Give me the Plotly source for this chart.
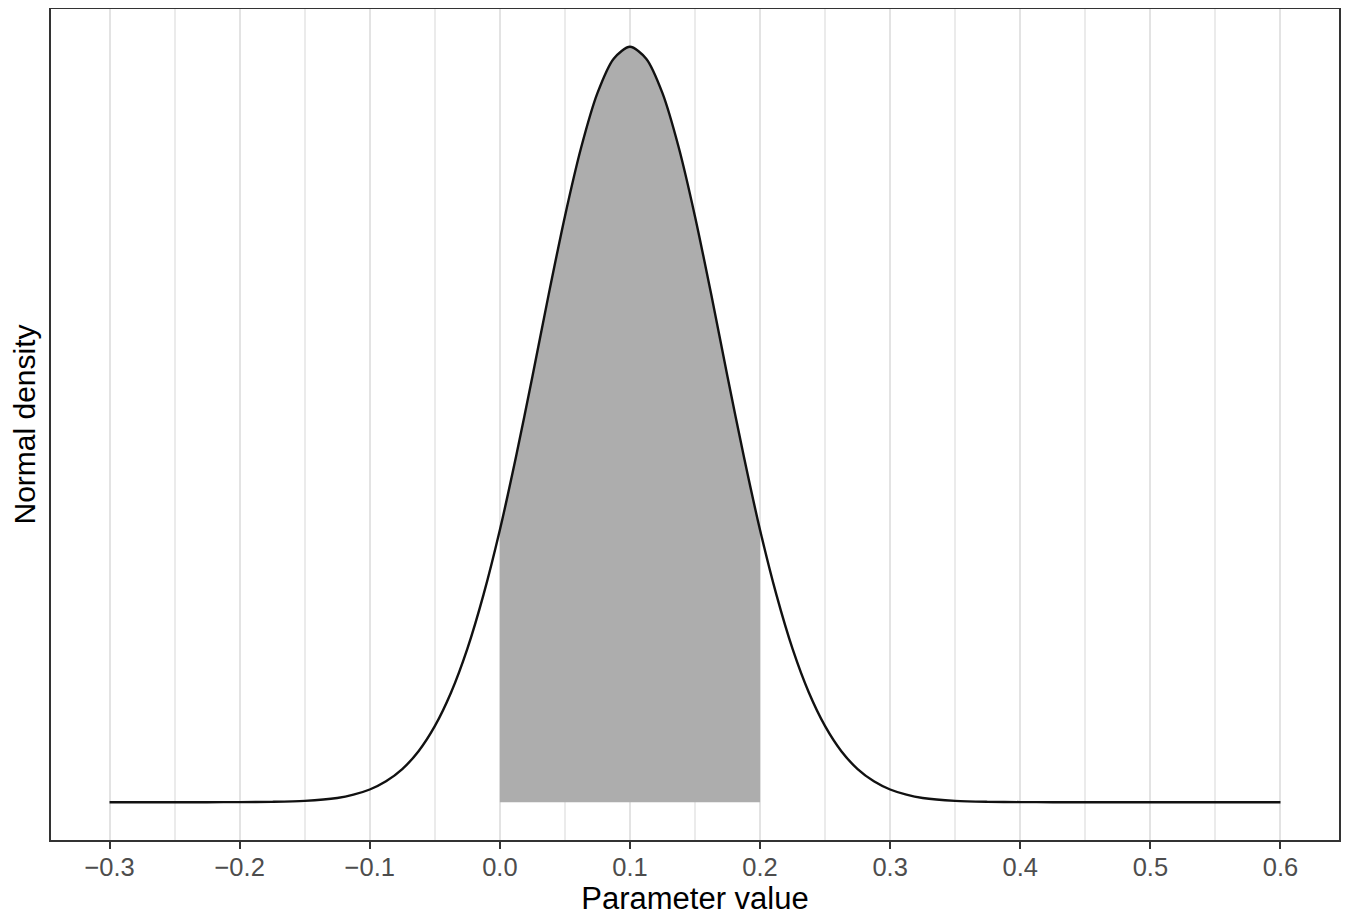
import plotly.graph_objects as go

# Values (normal density curve)
param_values = [-0.300, -0.275, -0.250, -0.225, -0.200, -0.175, -0.150, -0.125,
                -0.1125, -0.100, -0.0875, -0.075, -0.0625, -0.050, -0.0375, -0.025,
                -0.0125, 0.000, 0.0125, 0.025, 0.0375, 0.050, 0.0625, 0.075, 0.0875,
                0.100, 0.1125, 0.125, 0.1375, 0.150, 0.1625, 0.175, 0.1875, 0.200,
                0.2125, 0.225, 0.2375, 0.250, 0.2625, 0.275, 0.2875, 0.300, 0.3125,
                0.325, 0.350, 0.375, 0.400, 0.425, 0.450, 0.475, 0.500, 0.525,
                0.550, 0.575, 0.600]
density_values = [0.000, 0.000, 0.000, 0.000, 0.001, 0.003, 0.010, 0.032,
                  0.057, 0.096, 0.158, 0.250, 0.385, 0.574, 0.828, 1.157,
                  1.568, 2.054, 2.610, 3.210, 3.830, 4.420, 4.940, 5.350, 5.610,
                  5.700, 5.610, 5.350, 4.940, 4.420, 3.830, 3.210, 2.610, 2.054,
                  1.568, 1.157, 0.828, 0.574, 0.385, 0.250, 0.158, 0.096, 0.057,
                  0.032, 0.010, 0.003, 0.001, 0.000, 0.000, 0.000, 0.000, 0.000,
                  0.000, 0.000, 0.000]

shade_low, shade_high = 0.0, 0.2

tick_vals = [-0.3, -0.2, -0.1, 0.0, 0.1, 0.2, 0.3, 0.4, 0.5, 0.6]
tick_text = ["\u22120.3", "\u22120.2", "\u22120.1", "0.0", "0.1", "0.2", "0.3", "0.4", "0.5", "0.6"]

shade_x = [x for x in param_values if shade_low - 1e-9 <= x <= shade_high + 1e-9]
shade_y = [y for x, y in zip(param_values, density_values) if shade_low - 1e-9 <= x <= shade_high + 1e-9]

fig = go.Figure()
fig.add_trace(go.Scatter(
    x=shade_x, y=shade_y, mode="lines", fill="tozeroy",
    fillcolor="#ADADAD", line=dict(width=0, shape="spline", smoothing=0.8, color="#ADADAD"),
    hoverinfo="skip", showlegend=False))
fig.add_trace(go.Scatter(
    x=param_values, y=density_values, mode="lines",
    line=dict(color="#111111", width=2.4, shape="spline", smoothing=0.8),
    showlegend=False))

xmin, xmax = min(param_values), max(param_values)
xpad = (xmax - xmin) * 0.05
ymax = max(density_values)

# The page body adds an 8px offset, so the figure is sized to fill the rest of the window.
fig.update_layout(
    width=1343, height=913,
    margin=dict(l=43, r=12, t=1, b=81, autoexpand=False),
    paper_bgcolor="white", plot_bgcolor="white",
    font=dict(family="Liberation Sans, Arial, sans-serif"),
    xaxis=dict(
        range=[xmin - xpad, xmax + xpad],
        tickvals=tick_vals, ticktext=tick_text,
        tickfont=dict(size=25.5, color="#4D4D4D"),
        ticks="outside", ticklen=7, tickwidth=2, tickcolor="#333333",
        ticklabelstandoff=-4,
        showgrid=True, gridcolor="#E3E3E3", gridwidth=2,
        minor=dict(dtick=0.05, tick0=-0.35, showgrid=True, gridcolor="#EBEBEB", gridwidth=1.6, ticks=""),
        showline=True, mirror=True, linecolor="#333333", linewidth=2,
        zeroline=False, automargin=False,
        title=dict(text="Parameter value", font=dict(size=31, color="black"), standoff=2),
    ),
    yaxis=dict(
        range=[-0.05 * ymax, 1.05 * ymax],
        showticklabels=False, ticks="", showgrid=False, zeroline=False,
        showline=True, mirror=True, linecolor="#333333", linewidth=2,
        automargin=False,
        title=dict(text="Normal density", font=dict(size=30, color="black"), standoff=8),
    ),
)

fig.write_html("out.html")
